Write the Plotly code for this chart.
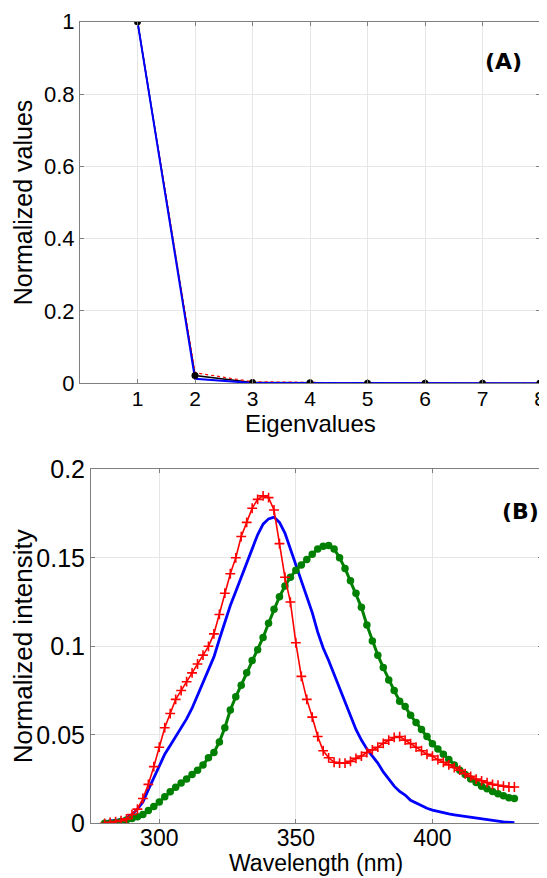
import plotly.graph_objects as go

# ---------------- Panel A data ----------------
eig_index = [1, 2, 3, 4, 5, 6, 7, 8]
eig_black = [1.0, 0.021, 0.002, 0.001, 0.0, 0.0, 0.0, 0.0]
eig_red = [1.0, 0.029, 0.004, 0.0015, 0.0005, 0.0, 0.0, 0.0]
eig_blue = [1.0, 0.012, 0.0005, 0.0, 0.0, 0.0, 0.0, 0.0]

# ---------------- Panel B data ----------------
wavelength = list(range(280, 431, 2))
blue_int = [0.001, 0.0012, 0.0015, 0.002, 0.003, 0.005, 0.008, 0.012, 0.019, 0.026,
            0.033, 0.039, 0.044, 0.049, 0.054, 0.059, 0.065, 0.072, 0.079, 0.086,
            0.094, 0.104, 0.114, 0.123, 0.131, 0.139, 0.147, 0.155, 0.163, 0.169,
            0.172, 0.173, 0.170, 0.164, 0.155, 0.146, 0.138, 0.129, 0.119, 0.108,
            0.099, 0.092, 0.084, 0.076, 0.068, 0.060, 0.053, 0.047, 0.042, 0.038,
            0.034, 0.029, 0.025, 0.021, 0.018, 0.016, 0.013, 0.0115, 0.010, 0.0085,
            0.0075, 0.0067, 0.006, 0.0053, 0.0048, 0.0043, 0.0038, 0.0033, 0.0028, 0.0024,
            0.002, 0.0016, 0.0012, 0.0008, 0.0005, 0.0003]
red_int = [0.000, 0.0005, 0.001, 0.0015, 0.0025, 0.005, 0.008, 0.014, 0.022, 0.032,
           0.043, 0.054, 0.062, 0.070, 0.075, 0.080, 0.085, 0.090, 0.095, 0.100,
           0.107, 0.118, 0.130, 0.141, 0.150, 0.162, 0.170, 0.178, 0.183, 0.185,
           0.184, 0.177, 0.158, 0.139, 0.125, 0.102, 0.083, 0.070, 0.060, 0.049,
           0.041, 0.037, 0.0345, 0.034, 0.034, 0.035, 0.0367, 0.038, 0.040, 0.0415,
           0.043, 0.0452, 0.047, 0.0485, 0.049, 0.047, 0.045, 0.043, 0.041, 0.039,
           0.038, 0.036, 0.0345, 0.033, 0.0315, 0.030, 0.028, 0.0265, 0.025, 0.024,
           0.023, 0.022, 0.0215, 0.021, 0.0205, 0.0205]
green_int = [0.000, 0.000, 0.0005, 0.001, 0.0018, 0.0027, 0.0037, 0.005, 0.0072, 0.0095,
             0.012, 0.015, 0.0178, 0.0203, 0.0227, 0.025, 0.0275, 0.030, 0.033, 0.037,
             0.040, 0.046, 0.054, 0.064, 0.0715, 0.078, 0.085, 0.092, 0.098, 0.105,
             0.113, 0.121, 0.128, 0.134, 0.139, 0.143, 0.146, 0.149, 0.152, 0.155,
             0.1565, 0.157, 0.155, 0.150, 0.144, 0.137, 0.130, 0.122, 0.112, 0.103,
             0.095, 0.088, 0.081, 0.075, 0.069, 0.066, 0.061, 0.057, 0.053, 0.049,
             0.045, 0.042, 0.039, 0.036, 0.033, 0.030, 0.0275, 0.025, 0.023, 0.021,
             0.0195, 0.018, 0.0167, 0.0155, 0.0145, 0.014]

x_ticks_a = [1, 2, 3, 4, 5, 6, 7, 8]
y_ticks_a = [0, 0.2, 0.4, 0.6, 0.8, 1]
y_ticktext_a = ["0", "0.2", "0.4", "0.6", "0.8", "1"]
x_ticks_b = [300, 350, 400]
y_ticks_b = [0, 0.05, 0.1, 0.15, 0.2]
y_ticktext_b = ["0", "0.05", "0.1", "0.15", "0.2"]

# The page body has an 8px margin, so the figure is drawn 8px in from the
# top-left corner of the window; size and positions compensate for that.
OFF = 8
W, H = 547 - OFF, 878 - OFF
FONT = "Liberation Sans, Arial, sans-serif"


def xpos(px):
    return (px - OFF) / W


def ypos(px):
    return (H - (px - OFF)) / H


fig = go.Figure()

# Panel A
fig.add_trace(go.Scatter(x=eig_index, y=eig_black, mode="lines",
                         line=dict(color="black", width=1.5),
                         xaxis="x", yaxis="y", showlegend=False))
fig.add_trace(go.Scatter(x=eig_index, y=eig_red, mode="lines",
                         line=dict(color="red", width=1.2, dash="dot"),
                         xaxis="x", yaxis="y", showlegend=False))
fig.add_trace(go.Scatter(x=eig_index, y=eig_blue, mode="lines",
                         line=dict(color="blue", width=2),
                         xaxis="x", yaxis="y", showlegend=False))
fig.add_trace(go.Scatter(x=eig_index, y=eig_black, mode="markers",
                         marker=dict(color="black", size=7),
                         xaxis="x", yaxis="y", showlegend=False))

# Panel B
fig.add_trace(go.Scatter(x=wavelength, y=blue_int, mode="lines",
                         line=dict(color="#0000ff", width=2.8),
                         xaxis="x2", yaxis="y2", showlegend=False))
fig.add_trace(go.Scatter(x=wavelength, y=green_int, mode="lines+markers",
                         line=dict(color="#008000", width=3),
                         marker=dict(color="#008000", size=7.5, symbol="circle"),
                         xaxis="x2", yaxis="y2", showlegend=False))
fig.add_trace(go.Scatter(x=wavelength, y=red_int, mode="lines+markers",
                         line=dict(color="#ff0000", width=1.6),
                         marker=dict(symbol="cross-thin", size=7,
                                     line=dict(color="#ff0000", width=1.6)),
                         xaxis="x2", yaxis="y2", showlegend=False))

axis_common = dict(showline=True, linecolor="#7f7f7f", linewidth=1, mirror="ticks",
                   ticks="inside", ticklen=4, tickcolor="#7f7f7f",
                   showgrid=True, gridcolor="#e6e6e6", gridwidth=1,
                   zeroline=False, automargin=False)

fig.update_layout(
    width=W, height=H,
    margin=dict(l=0, r=0, t=0, b=0),
    paper_bgcolor="white", plot_bgcolor="white",
    font=dict(family=FONT, color="black"),
    xaxis=dict(axis_common, domain=[xpos(80), xpos(540)], anchor="y", range=[0, 8],
               tickvals=x_ticks_a, ticklabelstandoff=-3,
               tickfont=dict(family=FONT, size=21, color="black")),
    yaxis=dict(axis_common, domain=[ypos(383.2), ypos(21.7)], anchor="x", range=[0, 1],
               tickvals=y_ticks_a, ticktext=y_ticktext_a,
               tickfont=dict(family=FONT, size=22, color="black"),
               title=dict(text="Normalized values", font=dict(family=FONT, size=25), standoff=4)),
    xaxis2=dict(axis_common, domain=[xpos(91), xpos(541.7)], anchor="y2", range=[275, 440],
                tickvals=x_ticks_b, ticklabelstandoff=-6,
                tickfont=dict(family=FONT, size=23, color="black")),
    yaxis2=dict(axis_common, domain=[ypos(823.3), ypos(469.3)], anchor="x2", range=[0, 0.2],
                tickvals=y_ticks_b, ticktext=y_ticktext_b,
                tickfont=dict(family=FONT, size=25, color="black"),
                title=dict(text="Normalized intensity", font=dict(family=FONT, size=26), standoff=2)),
    annotations=[
        dict(text="Eigenvalues", x=xpos(310), y=ypos(423), xref="paper", yref="paper",
             showarrow=False, font=dict(family=FONT, size=24, color="black"),
             xanchor="center", yanchor="middle"),
        dict(text="Wavelength (nm)", x=xpos(316), y=ypos(863), xref="paper", yref="paper",
             showarrow=False, font=dict(family=FONT, size=23, color="black"),
             xanchor="center", yanchor="middle"),
        dict(text="<b>(A)</b>", x=xpos(503), y=ypos(61.7), xref="paper", yref="paper",
             showarrow=False, font=dict(family="DejaVu Sans, sans-serif", size=22, color="black"),
             xanchor="center", yanchor="middle"),
        dict(text="<b>(B)</b>", x=xpos(520), y=ypos(511.7), xref="paper", yref="paper",
             showarrow=False, font=dict(family="DejaVu Sans, sans-serif", size=22, color="black"),
             xanchor="center", yanchor="middle"),
    ],
)

fig.write_html("out.html")
